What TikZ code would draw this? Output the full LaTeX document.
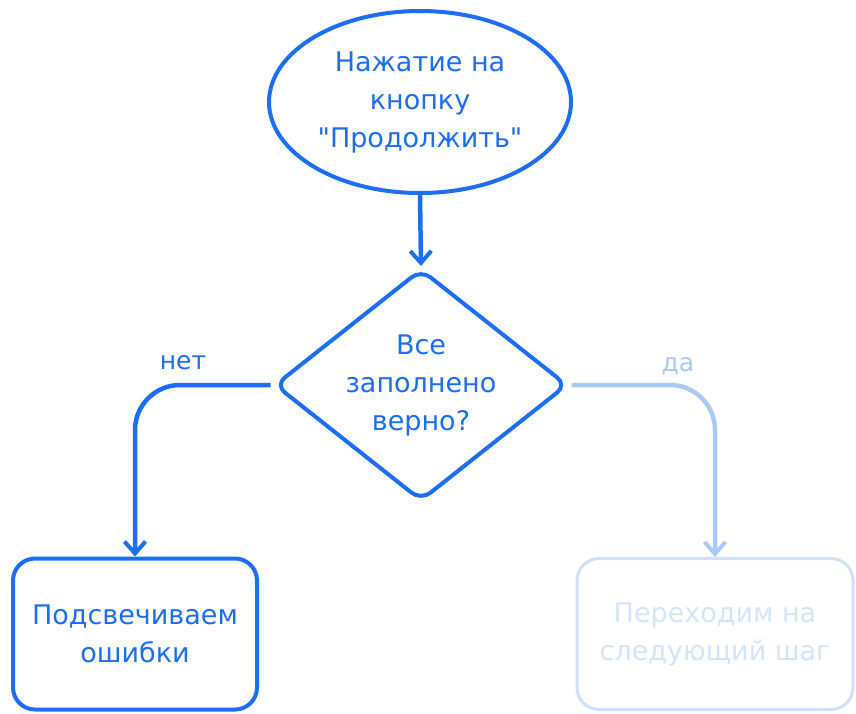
\documentclass[tikz,border=0pt]{standalone}
\usepackage{fontspec}
\setmainfont{DejaVu Sans}[Ligatures=TeXOff]
\usetikzlibrary{shapes.geometric,arrows.meta}
\definecolor{mainblue}{HTML}{1C6EF2}
\definecolor{paleline}{HTML}{A9C9F7}
\definecolor{palebox}{HTML}{CFE0FB}
\definecolor{paletext}{HTML}{D5E4FB}
\begin{document}
\begin{tikzpicture}[x=1pt,y=-1pt,
  shapeline/.style={draw=mainblue,line width=4pt,text=mainblue,align=center,
    font=\fontsize{27}{38}\selectfont,inner sep=0pt},
  conn/.style={line width=4.5pt,draw=mainblue,
    -{Straight Barb[length=12pt,width=21pt,line width=4pt]},rounded corners=45pt},
  lbl/.style={font=\fontsize{25}{30}\selectfont,text=mainblue}]
\useasboundingbox[fill=white] (0,0) rectangle (856,713);
\node[shapeline,ellipse,minimum width=302pt,minimum height=182pt] (start) at (420,102)
  {Нажатие на\\кнопку\\"Продолжить"};
\node[shapeline,diamond,aspect=1.26,minimum width=293pt,minimum height=232pt,
  rounded corners=12pt] (dec) at (421,385) {Все\\заполнено\\верно?};
\node[shapeline,rectangle,rounded corners=22pt,minimum width=244pt,minimum height=151pt]
  (err) at (135,634) {Подсвечиваем\\ошибки};
\node[shapeline,rectangle,rounded corners=22pt,minimum width=276pt,minimum height=151pt,
  draw=palebox,text=paletext,line width=3pt] (next) at (715,634) {Переходим на\\следующий шаг};
\draw[conn,shorten >=1pt] (start.south) -- (dec.north);
\draw[conn,shorten <=2pt] (dec.west) -| (err.north);
\draw[conn,draw=paleline,shorten <=2pt] (dec.east) -| (next.north);
\node[lbl] (no) at (183,363) {нет};
\node[lbl,text=paleline] (yes) at (678,366) {да};
\end{tikzpicture}
\end{document}
